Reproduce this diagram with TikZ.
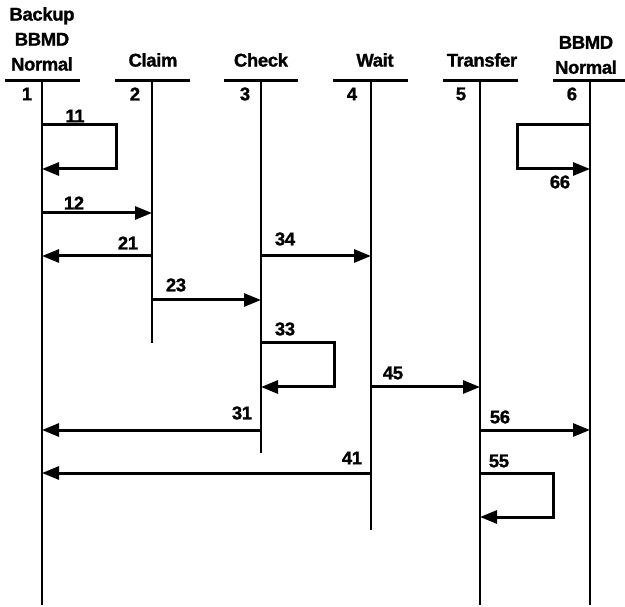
\documentclass[tikz,border=0pt]{standalone}
\usepackage{fontspec}
\setmainfont{Liberation Sans}
\newfontfamily\heavy[FakeBold=1.2,LetterSpace=-2]{Liberation Sans Bold}
\usetikzlibrary{arrows.meta}
\begin{document}
\begin{tikzpicture}[x=1pt,y=-1pt,
  lbl/.style={font=\heavy\fontsize{18.5}{18}\selectfont, inner sep=0pt},
  hdr/.style={font=\heavy\fontsize{18.5}{25}\selectfont, inner sep=0pt, align=center},
  bar/.style={line width=3pt},
  life/.style={line width=2.5pt},
  msg/.style={line width=3pt, -{Triangle[length=17pt,width=13pt]}},
]
\useasboundingbox (0,0) rectangle (625,607);
% headers
\node[hdr] (h1) at (42,39) {Backup\\BBMD\\Normal};
\node[hdr] (h2) at (153,60) {Claim};
\node[hdr] (h3) at (261,60) {Check};
\node[hdr] (h4) at (375,60) {Wait};
\node[hdr] (h5) at (482,60) {Transfer};
\node[hdr] (h6) at (586,55) {BBMD\\Normal};
% bars
\coordinate (b1l) at (5,81);   \coordinate (b1r) at (80,81);
\coordinate (b2l) at (115,81); \coordinate (b2r) at (190,81);
\coordinate (b3l) at (224,81); \coordinate (b3r) at (298,81);
\coordinate (b4l) at (333,81); \coordinate (b4r) at (408,81);
\coordinate (b5l) at (443,81); \coordinate (b5r) at (518,81);
\coordinate (b6l) at (553,81); \coordinate (b6r) at (625,81);
\foreach \i in {1,...,6} {\draw[bar] (b\i l) -- (b\i r);}
% numbers
\node[lbl] (n1) at (27,94) {1};
\node[lbl] (n2) at (135,94) {2};
\node[lbl] (n3) at (245,94) {3};
\node[lbl] (n4) at (352,94) {4};
\node[lbl] (n5) at (461,94) {5};
\node[lbl] (n6) at (572,94) {6};
% lifelines
\coordinate (L1) at (42,81);  \coordinate (E1) at (42,605);
\coordinate (L2) at (152,81); \coordinate (E2) at (152,343);
\coordinate (L3) at (261,81); \coordinate (E3) at (261,453);
\coordinate (L4) at (371,81); \coordinate (E4) at (371,530);
\coordinate (L5) at (480,81); \coordinate (E5) at (480,605);
\coordinate (L6) at (590,81); \coordinate (E6) at (590,605);
\foreach \i in {1,...,6} {\draw[life] (L\i) -- (E\i);}
% message y-levels
\coordinate (y11a) at (0,125); \coordinate (y11b) at (0,169);
\coordinate (y12) at (0,213);
\coordinate (y21) at (0,256);
\coordinate (y23) at (0,300);
\coordinate (y33a) at (0,343); \coordinate (y33b) at (0,387);
\coordinate (y31) at (0,430);
\coordinate (y41) at (0,473);
\coordinate (y55b) at (0,517);
\coordinate (x11) at (116,0);
\coordinate (x66) at (517,0);
\coordinate (x33) at (334,0);
\coordinate (x55) at (553,0);
% loops
\draw[msg] (L1 |- y11a) -- (x11 |- y11a) -- (x11 |- y11b) -- (L1 |- y11b);
\draw[msg] (L6 |- y11a) -- (x66 |- y11a) -- (x66 |- y11b) -- (L6 |- y11b);
\draw[msg] (L3 |- y33a) -- (x33 |- y33a) -- (x33 |- y33b) -- (L3 |- y33b);
\draw[msg] (L5 |- y41) -- (x55 |- y41) -- (x55 |- y55b) -- (L5 |- y55b);
% straight messages
\draw[msg] (L1 |- y12) -- (L2 |- y12);
\draw[msg] (L2 |- y21) -- (L1 |- y21);
\draw[msg] (L3 |- y21) -- (L4 |- y21);
\draw[msg] (L2 |- y23) -- (L3 |- y23);
\draw[msg] (L4 |- y33b) -- (L5 |- y33b);
\draw[msg] (L3 |- y31) -- (L1 |- y31);
\draw[msg] (L5 |- y31) -- (L6 |- y31);
\draw[msg] (L4 |- y41) -- (L1 |- y41);
% labels
\node[lbl] (t11) at (75,116) {11};
\node[lbl] (t66) at (560,182) {66};
\node[lbl] (t12) at (74,203) {12};
\node[lbl] (t21) at (128,243) {21};
\node[lbl] (t34) at (285,239) {34};
\node[lbl] (t23) at (176,285) {23};
\node[lbl] (t33) at (285,329) {33};
\node[lbl] (t45) at (393,373) {45};
\node[lbl] (t31) at (242,413) {31};
\node[lbl] (t56) at (500,417) {56};
\node[lbl] (t41) at (352,458) {41};
\node[lbl] (t55) at (499,461) {55};
\end{tikzpicture}
\end{document}
